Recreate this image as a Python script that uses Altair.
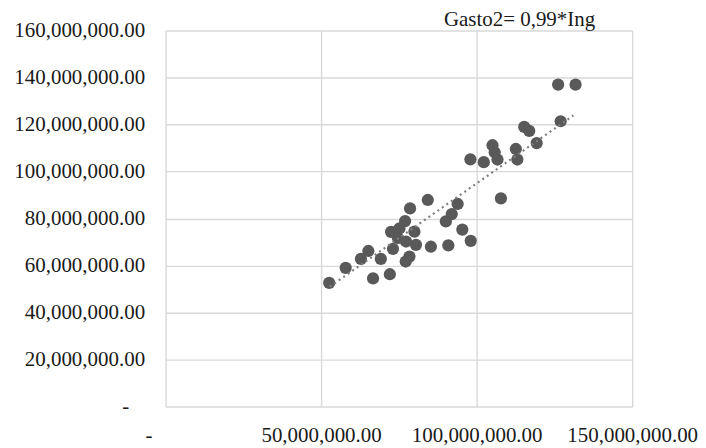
import altair as alt
import pandas as pd

# Ingreso (x) and Gasto (y), in millions
ingreso = [52.6, 57.9, 62.8, 65.2, 66.7, 72.1, 69.2, 73.1, 72.5, 75.2,
           74.7, 77.0, 78.6, 84.3, 80.0, 80.5, 77.3, 78.4, 77.2, 85.3,
           90.9, 90.1, 92.0, 93.9, 95.4, 98.1, 98.0, 102.3, 105.1, 105.8,
           106.7, 112.6, 113.1, 119.3, 107.8, 115.3, 116.9, 126.2, 131.8, 127.0]
gasto = [52.6, 59.0, 62.8, 66.2, 54.5, 56.3, 62.8, 67.1, 74.3, 75.8,
         71.7, 78.9, 84.3, 87.9, 74.4, 68.8, 70.2, 63.8, 61.7, 68.0,
         68.6, 78.8, 81.9, 86.2, 75.3, 70.5, 105.2, 104.0, 111.2, 108.2,
         105.1, 109.6, 105.1, 112.1, 88.6, 119.0, 117.3, 137.0, 137.0, 121.4]

# trendline endpoints (millions)
trend_x = [52.8, 131.1]
trend_y = [51.0, 123.9]

x_ticks = [0, 50e6, 100e6, 150e6]
y_ticks = [0, 20e6, 40e6, 60e6, 80e6, 100e6, 120e6, 140e6, 160e6]

pts = pd.DataFrame({"x": [v * 1e6 for v in ingreso], "y": [v * 1e6 for v in gasto]})
trend = pd.DataFrame({"x": [v * 1e6 for v in trend_x], "y": [v * 1e6 for v in trend_y]})

FONT = "Liberation Serif"

xscale = alt.Scale(domain=[0, 150e6], nice=False, zero=True)
yscale = alt.Scale(domain=[0, 160e6], nice=False, zero=True)

xaxis = alt.Axis(values=x_ticks, title=None, grid=True, domain=False, ticks=False,
                 labelPadding=18, labelFontSize=21, labelFont=FONT, labelColor="#1a1a1a",
                 gridColor="#d9d9d9", gridWidth=1.4, labelOverlap=False, labelFlush=False,
                 labelOffset={"condition": {"test": "datum.value == 0", "value": -17}, "value": 0},
                 labelExpr="datum.value == 0 ? '-' : format(datum.value, ',.2f')")
yaxis = alt.Axis(values=y_ticks, title=None, grid=True, domain=False, ticks=False,
                 labelPadding={"condition": {"test": "datum.value == 0", "value": 37}, "value": 21},
                 labelFontSize=21, labelFont=FONT, labelColor="#1a1a1a",
                 gridColor="#d9d9d9", gridWidth=1.4, labelOverlap=False, labelFlush=False,
                 labelExpr="datum.value == 0 ? '-' : format(datum.value, ',.2f')")

points = alt.Chart(pts).mark_circle(size=150, color="#595959", opacity=1).encode(
    x=alt.X("x:Q", scale=xscale, axis=xaxis),
    y=alt.Y("y:Q", scale=yscale, axis=yaxis),
)

line = alt.Chart(trend).mark_line(color="#7f7f7f", strokeWidth=2.2, strokeDash=[2, 3.5]).encode(
    x=alt.X("x:Q", scale=xscale),
    y=alt.Y("y:Q", scale=yscale),
)

chart = (points + line).properties(
    width=468, height=377,
    padding={"left": 5, "top": 0, "right": 0, "bottom": 0},
    title=alt.TitleParams("Gasto2= 0,99*Ing", font=FONT, fontSize=21, fontWeight="normal",
                          color="#1a1a1a", anchor="middle", dx=121, offset=-10),
).configure_view(strokeWidth=0)

chart.save("out.html", embed_options={"renderer": "svg", "actions": False})
